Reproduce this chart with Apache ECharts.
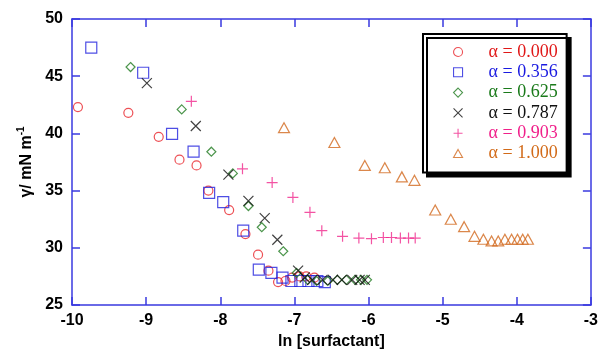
<!DOCTYPE html>
<html><head><meta charset="utf-8">
<script src="https://cdn.jsdelivr.net/npm/echarts@6/dist/echarts.min.js"></script>
<style>html,body{margin:0;padding:0;background:#fff}#c{width:601px;height:355px}</style>
</head><body><div id="c"></div>
<script>
var legendLabels = ['α = 0.000','α = 0.356','α = 0.625','α = 0.787','α = 0.903','α = 1.000'];
var xTicks = [-10,-9,-8,-7,-6,-5,-4,-3];
var yTicks = [25,30,35,40,45,50];
var a0000 = [[-9.92,42.3],[-9.24,41.8],[-8.83,39.7],[-8.55,37.7],[-8.32,37.2],[-8.16,35.0],[-7.88,33.3],[-7.66,31.2],[-7.49,29.4],[-7.35,28.0],[-7.22,27.0],[-7.12,27.1],[-7.03,27.4],[-6.93,27.5],[-6.84,27.5],[-6.73,27.4]];
var a0356 = [[-9.74,47.5],[-9.04,45.3],[-8.65,39.95],[-8.36,38.4],[-8.15,34.8],[-7.96,34.0],[-7.69,31.5],[-7.48,28.1],[-7.31,27.8],[-7.16,27.4],[-7.04,27.1],[-6.92,27.1],[-6.81,27.1],[-6.69,27.1],[-6.59,27.0]];
var a0625 = [[-9.21,45.8],[-8.52,42.1],[-8.12,38.4],[-7.83,36.5],[-7.62,33.65],[-7.44,31.8],[-7.15,29.7],[-6.97,27.8],[-6.82,27.2],[-6.70,27.1],[-6.55,27.1],[-6.42,27.2],[-6.30,27.2],[-6.18,27.2],[-6.10,27.2],[-6.02,27.2]];
var a0787 = [[-8.99,44.4],[-8.33,40.65],[-7.89,36.4],[-7.62,34.1],[-7.40,32.6],[-7.23,30.7],[-6.95,28.0],[-6.86,27.4],[-6.76,27.2],[-6.62,27.2],[-6.48,27.2],[-6.36,27.2],[-6.22,27.2],[-6.12,27.2],[-6.05,27.2]];
var a0903 = [[-8.39,42.8],[-7.70,36.9],[-7.30,35.7],[-7.02,34.4],[-6.79,33.1],[-6.63,31.5],[-6.35,31.0],[-6.13,30.85],[-5.96,30.8],[-5.80,30.9],[-5.69,30.9],[-5.57,30.85],[-5.46,30.85],[-5.37,30.85]];
var a1000 = [[-7.14,40.5],[-6.46,39.2],[-6.05,37.2],[-5.78,37.0],[-5.55,36.2],[-5.38,35.9],[-5.10,33.3],[-4.89,32.5],[-4.71,31.85],[-4.57,31.0],[-4.45,30.75],[-4.34,30.6],[-4.25,30.6],[-4.16,30.75],[-4.07,30.75],[-3.99,30.75],[-3.92,30.75],[-3.85,30.75]];

var dataSets = [a0000,a0356,a0625,a0787,a0903,a1000];
var markColors = ['#e8242a','#2222dd','#1f7a1f','#111111','#f0288c','#d2691e'];
var textColors = ['#e01818','#1a1ae0','#1a7a1a','#111111','#f0208a','#d26a18'];
var symbols = [
  'path://M10,5A5,5 0 1,1 0,5A5,5 0 1,1 10,5Z',
  'path://M0,0H10V10H0Z',
  'path://M5,0L10,5L5,10L0,5Z',
  'path://M0,0L10,10M10,0L0,10',
  'path://M5,0V10M0,5H10',
  'path://M5,0L10,9H0Z'
];
var sizes = [9,11,9,10,11,[11,10]];

var series = dataSets.map(function(d,i){
  return {
    type:'scatter', name: legendLabels[i], data: d,
    symbol: symbols[i], symbolSize: sizes[i],
    itemStyle: {color:'transparent', borderColor: markColors[i], borderWidth: 1.2},
    emphasis:{disabled:true}, animation:false
  };
});

var axisLineStyle = {color:'#3a3ae0', width:1.5};
var chart = echarts.init(document.getElementById('c'));
chart.setOption({
  animation:false,
  grid:{left:72, right:7.5, top:19, bottom:50, containLabel:false},
  legend:{
    orient:'vertical', left:423, top:34,
    padding:[8,9,9,30], itemGap:0.3, itemWidth:9, itemHeight:9,
    backgroundColor:'#fff', borderColor:'#000', borderWidth:2,
    shadowColor:'#000', shadowBlur:0, shadowOffsetX:4, shadowOffsetY:4,
    itemStyle:{borderWidth:1.1},
    textStyle:{fontFamily:'Liberation Serif', fontSize:18, lineHeight:20, rich:{sp:{width:21}}},
    formatter:function(n){ return '{sp|}' + n; },
    selectedMode:false,
    data: legendLabels.map(function(n,i){ return {name:n, textStyle:{color:textColors[i]}}; })
  },
  xAxis:[{
    type:'value', min:-10, max:-3, interval:1, position:'bottom',
    name:'ln [surfactant]', nameLocation:'middle', nameGap:28,
    nameTextStyle:{fontFamily:'Liberation Sans', fontWeight:'bold', fontSize:16, color:'#000'},
    axisLine:{lineStyle:axisLineStyle}, axisTick:{inside:true, length:8, lineStyle:axisLineStyle},
    axisLabel:{fontFamily:'Liberation Sans', fontWeight:'bold', fontSize:16, color:'#000', margin:8},
    splitLine:{show:false}
  },{
    type:'value', min:-10, max:-3, interval:1, position:'top',
    axisLine:{lineStyle:axisLineStyle}, axisTick:{inside:true, length:8, lineStyle:axisLineStyle},
    axisLabel:{show:false}, splitLine:{show:false}
  }],
  yAxis:[{
    type:'value', min:25, max:50, interval:5, position:'left',
    name:'{a|γ/ mN m}{s|-1}', nameLocation:'middle', nameGap:33, nameRotate:90,
    nameTextStyle:{color:'#000', rich:{
      a:{fontFamily:'Liberation Sans', fontWeight:'bold', fontSize:16, lineHeight:20, color:'#000'},
      s:{fontFamily:'Liberation Sans', fontWeight:'bold', fontSize:10, lineHeight:10, verticalAlign:'top', color:'#000'}
    }},
    axisLine:{lineStyle:axisLineStyle}, axisTick:{inside:true, length:8, lineStyle:axisLineStyle},
    axisLabel:{fontFamily:'Liberation Sans', fontWeight:'bold', fontSize:16, color:'#000', margin:9},
    splitLine:{show:false}
  },{
    type:'value', min:25, max:50, interval:5, position:'right',
    axisLine:{lineStyle:axisLineStyle}, axisTick:{inside:true, length:8, lineStyle:axisLineStyle},
    axisLabel:{show:false}, splitLine:{show:false}
  }],
  series: series
});
</script></body></html>
